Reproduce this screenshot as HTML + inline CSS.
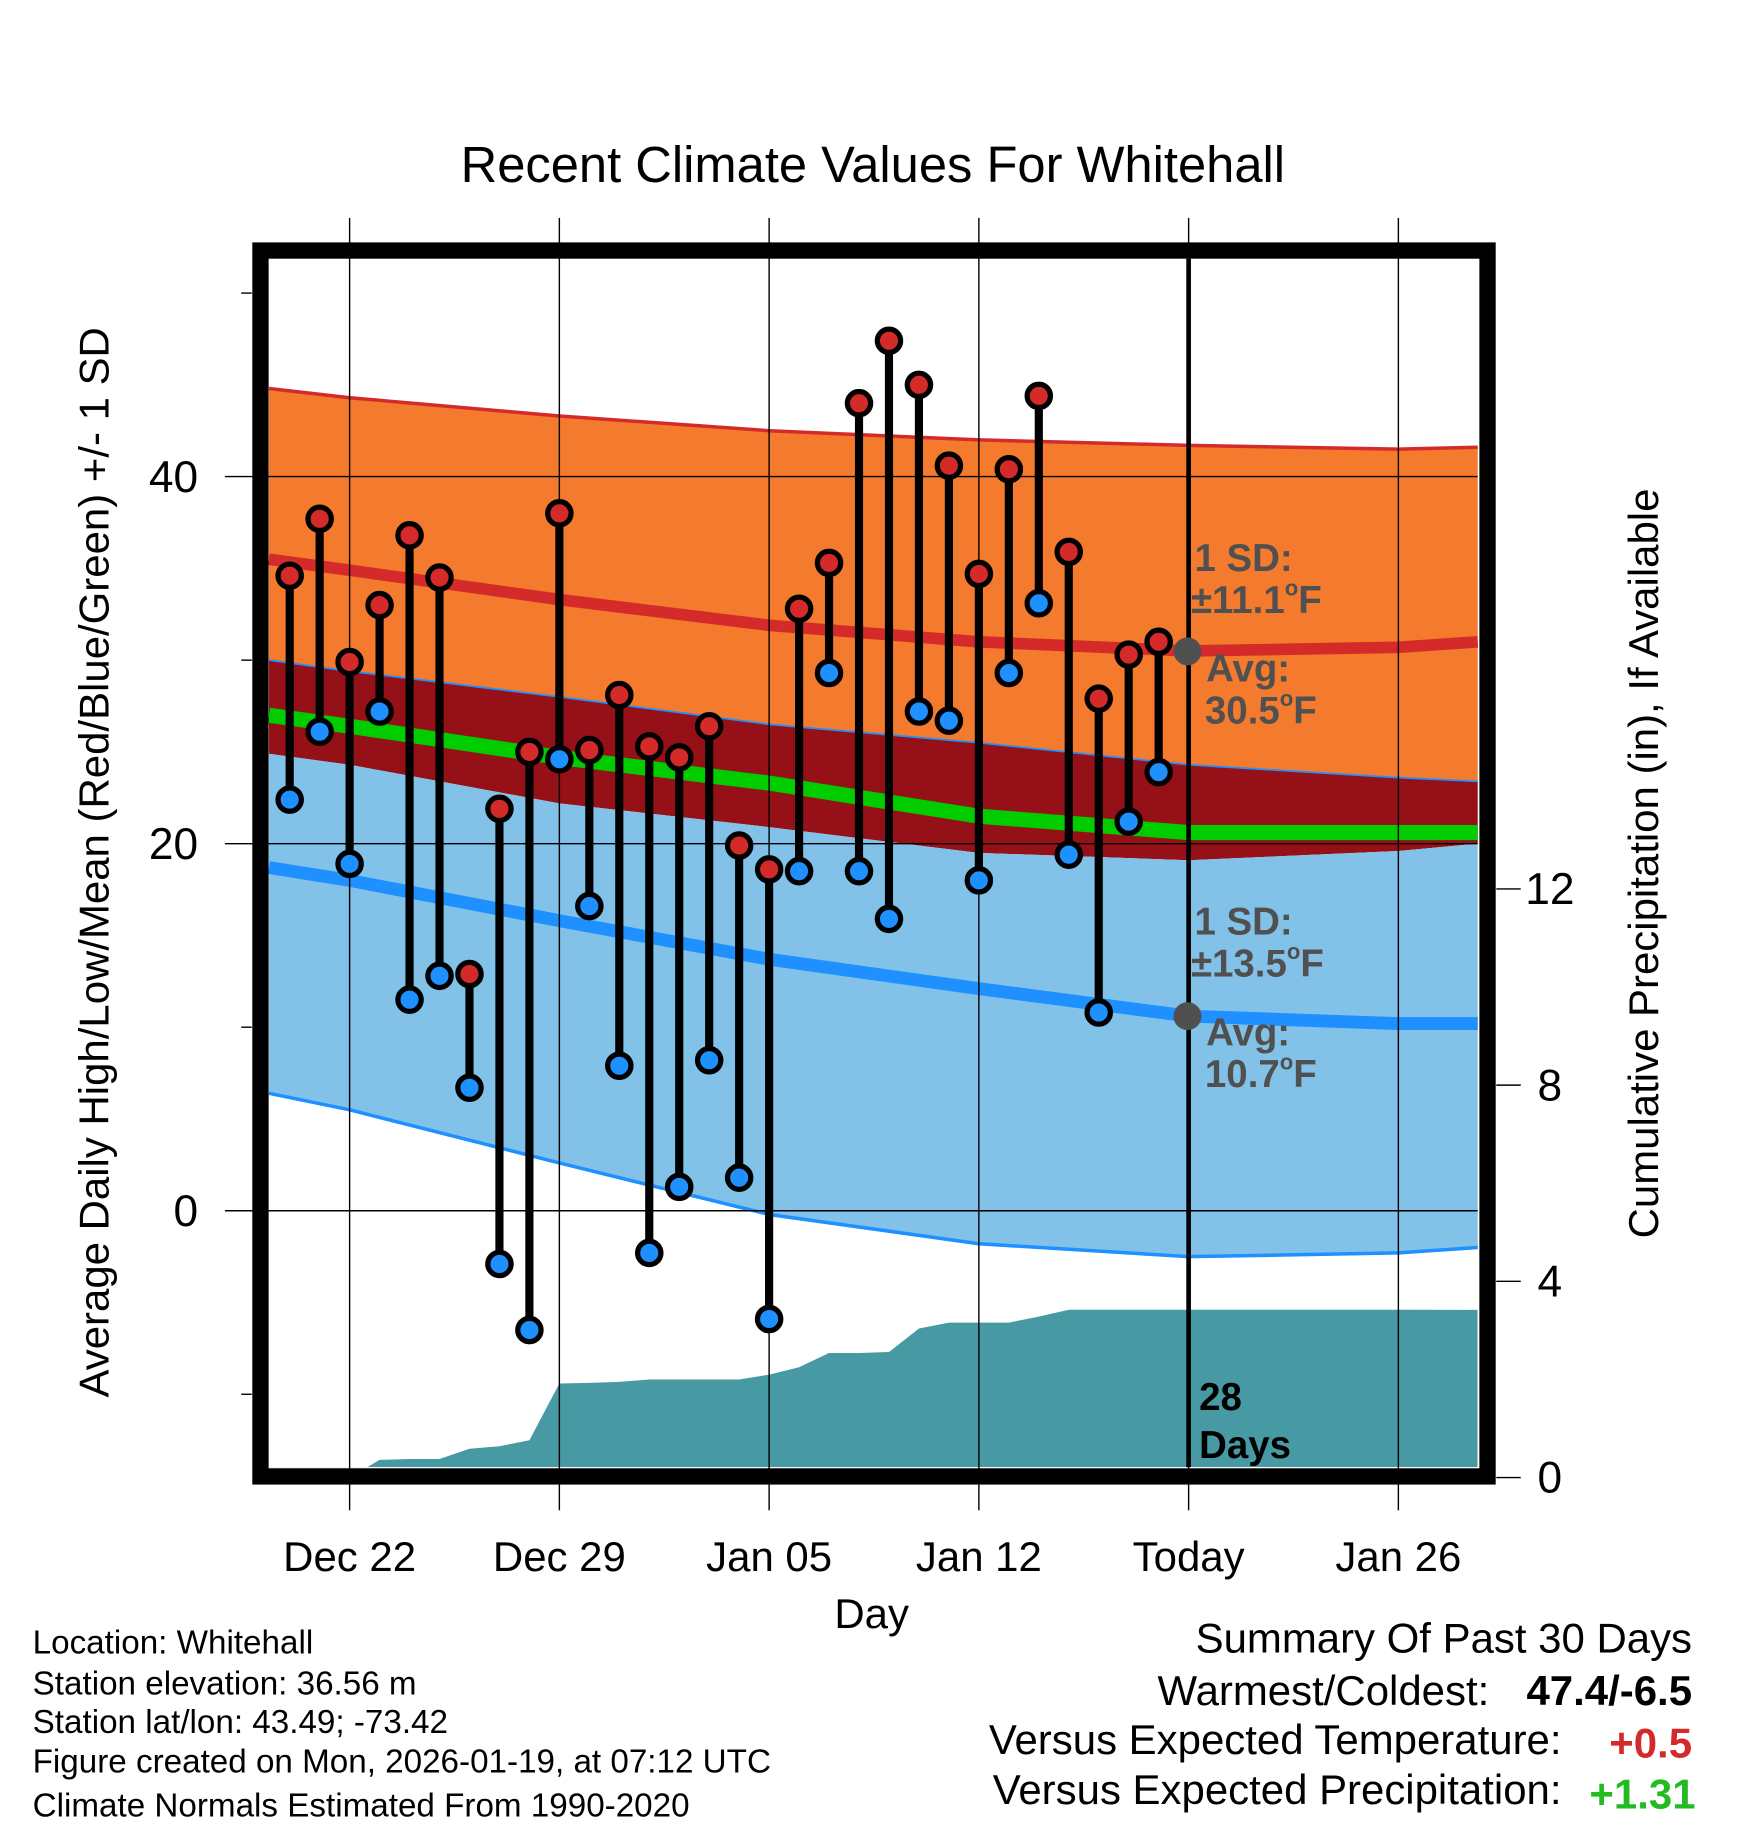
<!DOCTYPE html>
<html><head><meta charset="utf-8"><style>
html,body{margin:0;padding:0;background:#fff}
svg{display:block}
text{font-family:"Liberation Sans",Arial,sans-serif}
</style></head><body>
<svg id="chart" width="1748" height="1828" viewBox="0 0 1500 1568.7" xmlns="http://www.w3.org/2000/svg">
<g id="bands"></g>
<g id="precip"></g>
<g id="grid"></g>
<g id="bars"></g>
<g id="annot"></g>
<g id="frame"></g>
<g id="labels"></g>
</svg>
<script>
// ---- data ----
const dayLabels = ["Dec 22","Dec 29","Jan 05","Jan 12","Today","Jan 26"];
const dayTicks = [3,10,17,24,31,38];
const highs = [34.6,37.7,29.9,33.0,36.8,34.5,12.9,21.9,25.0,38.0,25.1,28.1,25.3,24.7,26.4,19.9,18.6,32.8,35.3,44.0,47.4,45.0,40.6,34.7,40.4,44.4,35.9,27.9,30.3,31.0];
const lows = [22.4,26.1,18.9,27.2,11.5,12.8,6.7,-2.9,-6.5,24.6,16.6,7.9,-2.3,1.3,8.2,1.8,-5.9,18.5,29.3,18.5,15.9,27.2,26.7,18.0,29.3,33.1,19.4,10.8,21.2,23.9];
const precip = [0,0,0,0.36,0.38,0.38,0.59,0.64,0.76,1.92,1.93,1.95,2.0,2.0,2.0,2.0,2.1,2.25,2.54,2.54,2.56,3.04,3.16,3.16,3.16,3.28,3.42,3.42,3.42,3.42];
const normDays = [0.31,3,10,17,24,31,38,40.65];
const highUpper = [44.8,44.3,43.3,42.5,42.0,41.7,41.5,41.6];
const highMean = [35.5,34.9,33.3,31.9,31.0,30.5,30.7,31.0];
const highLower = [30.0,29.4,28.0,26.5,25.5,24.3,23.6,23.4];
const overallMean = [27.0,26.4,24.7,23.3,21.5,20.6,20.6,20.6];
const lowUpper = [24.9,24.3,22.2,20.9,19.5,19.1,19.6,20.0];
const lowMean = [18.7,18.0,15.8,13.7,12.1,10.6,10.2,10.2];
const lowLower = [6.4,5.5,2.6,-0.2,-1.8,-2.5,-2.3,-2.0];
const yTicks = [0,20,40];
const yMinor = [-10,10,30,50];
const pTicks = [0,4,8,12];

// ---- axes ----
const X = d => 300 + (d - 3) * 25.714;
const Y = t => 1039 - t * 15.75;
const P = p => 1268 - p * 42.1;
const L = 231, R = 1268, T = 222, B = 1259;
const NS = "http://www.w3.org/2000/svg";
function mk(tag, attrs, parent, txt){const e=document.createElementNS(NS,tag);for(const k in attrs)e.setAttribute(k,attrs[k]);if(txt!==undefined)e.textContent=txt;parent.appendChild(e);return e;}
const bands=document.getElementById('bands'),gp=document.getElementById('precip'),grid=document.getElementById('grid'),bars=document.getElementById('bars'),annot=document.getElementById('annot'),frame=document.getElementById('frame'),labels=document.getElementById('labels');

function line(arr){return normDays.map((d,i)=>X(d).toFixed(1)+","+Y(arr[i]).toFixed(1));}
function band(top,bot,fill,name){
  const pts=line(top).concat(line(bot).reverse());
  const e=mk('polygon',{points:pts.join(' '),fill:fill},bands);
  
  
}
band(highUpper,highLower,'#f47a2e','high-sd-band');
band(highLower,lowUpper,'#961017','overlap-band');
band(lowUpper,lowLower,'#82c1e8','low-sd-band');
function pl(arr,color,w,name){
  const e=mk('polyline',{points:line(arr).join(' '),fill:'none',stroke:color,'stroke-width':w,'stroke-linejoin':'round'},bands);
  
  
}
pl(highUpper,'#d42a2a',3,'high-upper-line');
pl(highLower,'#1e90ff',1.5,'high-lower-line');
pl(overallMean,'#00cc00',13,'overall-mean-line');
pl(highMean,'#d42a2a',10,'high-mean-line');
pl(lowMean,'#1e90ff',11,'low-mean-line');
pl(lowLower,'#1e90ff',3,'low-lower-line');

// precip
(function(){
  let pts=[X(0.31)+","+P(0)];
  precip.forEach((p,i)=>pts.push(X(i+1).toFixed(1)+","+P(p).toFixed(1)));
  pts.push(R+","+P(precip[precip.length-1]));
  pts.push(R+","+B); pts.push(X(0.31)+","+B);
  const cp=mk('clipPath',{id:'clipIn'},gp);mk('rect',{x:L,y:T,width:R-L,height:B-T},cp);
  const e=mk('polygon',{points:pts.join(' '),fill:'#4799a4','clip-path':'url(#clipIn)'},gp);
  
  
})();

// grid
dayTicks.forEach((d,i)=>{
  const e=mk('line',{x1:X(d),x2:X(d),y1:187,y2:1296,stroke:'#000','stroke-width':1.2},grid);
  
  
  const t=mk('text',{x:X(d),y:1348,'font-size':36,'text-anchor':'middle'},labels,dayLabels[i]);
  
  
});
yTicks.forEach(v=>{
  const e=mk('line',{x1:193,x2:R,y1:Y(v),y2:Y(v),stroke:'#000','stroke-width':1.2},grid);
  
  
  const t=mk('text',{x:170,y:Y(v)+13,'font-size':38,'text-anchor':'end'},labels,String(v));
  
  
});
yMinor.forEach(v=>{
  const e=mk('line',{x1:207,x2:216,y1:Y(v),y2:Y(v),stroke:'#000','stroke-width':1.2},grid);
  
  
});
pTicks.forEach(v=>{
  const e=mk('line',{x1:1284,x2:1305,y1:P(v),y2:P(v),stroke:'#000','stroke-width':1.2},grid);
  
  
  const t=mk('text',{x:1330,y:P(v)+13,'font-size':38,'text-anchor':'middle'},labels,String(v));
  
  
});

// today line
(function(){
  const e=mk('line',{x1:X(31),x2:X(31),y1:T,y2:B,stroke:'#000','stroke-width':4},annot);
  
  
})();

// bars
highs.forEach((h,i)=>{
  const x=X(i+1), l=lows[i];
  const ln=mk('line',{x1:x,x2:x,y1:Y(h),y2:Y(l),stroke:'#000','stroke-width':7},bars);
  
  
  const c1=mk('circle',{cx:x,cy:Y(h),r:10,fill:'#d42a2a',stroke:'#000','stroke-width':4.5},bars);
  
  
  const c2=mk('circle',{cx:x,cy:Y(l),r:10,fill:'#1e90ff',stroke:'#000','stroke-width':4.5},bars);
  
  
});

// frame
(function(){
  const e=mk('rect',{x:223.5,y:215,width:1053,height:1052,fill:'none',stroke:'#000','stroke-width':14},frame);
  
  
})();
</script>
<svg style="position:absolute;left:0;top:0" width="1748" height="1828" viewBox="0 0 1500 1568.7" xmlns="http://www.w3.org/2000/svg">
<g font-family="Liberation Sans, Arial, sans-serif" font-weight="bold" font-size="33" fill="#505050">
 <circle cx="1019" cy="559" r="12" fill="#505050"/>
 <circle cx="1019" cy="872" r="12" fill="#505050"/>
 <text x="1025" y="490">1 SD:</text>
 <text x="1022" y="526">±11.1<tspan font-size="19" dy="-15">o</tspan><tspan dy="15">F</tspan></text>
 <text x="1035" y="585">Avg:</text>
 <text x="1034" y="621">30.5<tspan font-size="19" dy="-15">o</tspan><tspan dy="15">F</tspan></text>
 <text x="1025" y="802">1 SD:</text>
 <text x="1022" y="838">±13.5<tspan font-size="19" dy="-15">o</tspan><tspan dy="15">F</tspan></text>
 <text x="1035" y="897">Avg:</text>
 <text x="1034" y="933">10.7<tspan font-size="19" dy="-15">o</tspan><tspan dy="15">F</tspan></text>
 <text x="1029" y="1210" fill="#000">28</text>
 <text x="1029" y="1251" fill="#000">Days</text>
</g>
<g font-family="Liberation Sans, Arial, sans-serif" fill="#000">
 <text x="749" y="156" font-size="43.5" text-anchor="middle">Recent Climate Values For Whitehall</text>
 <text x="748" y="1397" font-size="36" text-anchor="middle">Day</text>
 <text transform="translate(93,740) rotate(-90)" font-size="36" text-anchor="middle">Average Daily High/Low/Mean (Red/Blue/Green) +/- 1 SD</text>
 <text transform="translate(1423,741) rotate(-90)" font-size="36" text-anchor="middle">Cumulative Precipitation (in), If Available</text>
 <g font-size="28.5">
  <text x="28" y="1419">Location: Whitehall</text>
  <text x="28" y="1454">Station elevation: 36.56 m</text>
  <text x="28" y="1487">Station lat/lon: 43.49; -73.42</text>
  <text x="28" y="1521">Figure created on Mon, 2026-01-19, at 07:12 UTC</text>
  <text x="28" y="1559">Climate Normals Estimated From 1990-2020</text>
 </g>
 <g font-size="36" text-anchor="end">
  <text x="1452" y="1418">Summary Of Past 30 Days</text>
  <text x="1278" y="1463">Warmest/Coldest:</text>
  <text x="1452" y="1463" font-weight="bold">47.4/-6.5</text>
  <text x="1340" y="1505">Versus Expected Temperature:</text>
  <text x="1452" y="1508" font-weight="bold" fill="#d42a2a">+0.5</text>
  <text x="1340" y="1548">Versus Expected Precipitation:</text>
  <text x="1455" y="1552" font-weight="bold" fill="#22bb22">+1.31</text>
 </g>
</g>
</svg>
</body></html>
